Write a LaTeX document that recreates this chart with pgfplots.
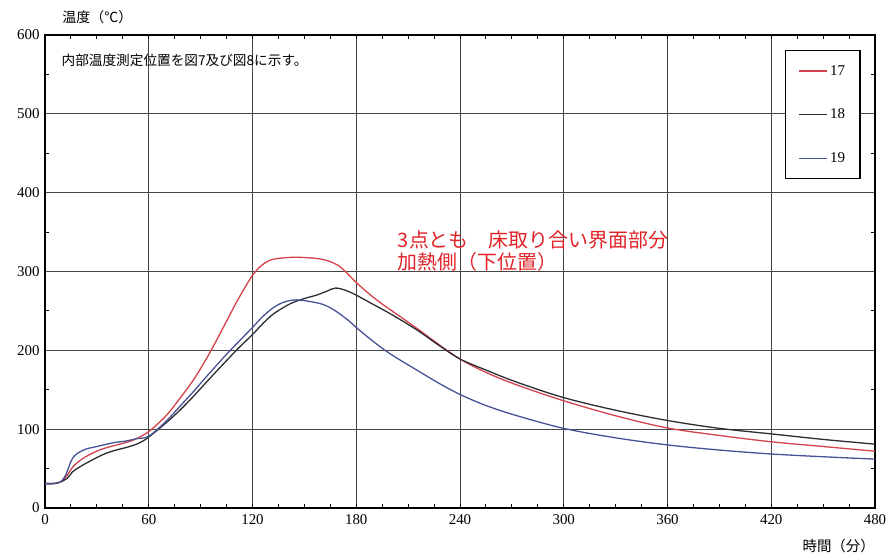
\documentclass[border=0pt]{standalone}
\usepackage{fontspec}
\setmainfont{Liberation Serif}
\newfontfamily\jp{Noto Sans CJK JP}
\usepackage{pgfplots}
\pgfplotsset{compat=1.18}

\definecolor{c17}{RGB}{212,66,76}
\definecolor{c18}{RGB}{45,45,50}
\definecolor{c19}{RGB}{72,82,150}
\definecolor{gridc}{RGB}{70,70,70}
\definecolor{notered}{RGB}{225,35,40}

\begin{document}
\begin{tikzpicture}
\begin{axis}[
  scale only axis, width=830bp, height=473bp,
  at={(0,0)}, anchor=south west,
  xmin=0, xmax=480, ymin=0, ymax=600,
  xtick={0,60,...,480}, ytick={0,100,...,600},
  minor xtick={15,30,...,465}, minor ytick={50,150,...,550},
  grid=major,
  major grid style={gridc, line width=1bp},
  axis line style={black, line width=1.6bp},
  tick align=inside,
  major tick length=0bp, minor tick length=4bp,
  every minor tick/.style={black, line width=0.9bp},
  tick label style={font=\fontsize{15}{15}\selectfont},
  /pgf/number format/assume math mode=true,
  xticklabel style={yshift=-3bp},
  yticklabel style={xshift=-2bp},
  clip=false,
  legend style={at={(0.8916,0.968)}, anchor=north west,
    draw=black, line width=1.1bp, fill=white,
    font=\fontsize{15}{15}\selectfont,
    row sep=28.5bp, inner xsep=13bp, inner ysep=12.5bp,
    cells={anchor=west}},
  legend image code/.code={\draw[#1, line width=1.5bp] (0bp,0bp) -- (28bp,0bp);},
]

% 17
\addplot[c17, line width=1.3bp, smooth, tension=0.55] coordinates {
(0,31) (5,31) (9,33) (13,42) (16,52) (19,58) (22,63) (27,69) (32,74)
(38,78) (45,82) (52,87) (60,97) (70,117) (78,139) (86,163) (93.5,190)
(100,216) (105,237) (112,266) (120,295) (126,309) (132,315.5) (143,318)
(155,317) (163,314) (170,307) (176,295) (180,286) (190,267) (200,251)
(215,228) (228,207) (240,189) (255,172) (273,156) (300,136) (330,117)
(360,101.5) (390,92) (420,84) (450,78) (480,72)};
\addlegendentry{17}

% 18
\addplot[c18, line width=1.3bp, smooth, tension=0.55] coordinates {
(0,31) (5,31) (9,33) (13,38) (16,46) (20,52) (24,57) (30,64) (36,70)
(42,74) (49,78) (55,83) (60,90) (70,108) (78,124) (86,142) (93.5,160)
(105,187) (112,203) (120,220) (126,234) (132,246) (140,257) (145,262)
(152,267) (157,270) (163,275) (168,279) (174,276) (180,270) (190,258)
(200,246) (215,226) (228,206) (240,189) (255,175) (273,159.5) (300,140)
(330,124) (360,111) (390,101) (420,94) (450,87) (480,81)};
\addlegendentry{18}

% 19
\addplot[c19, line width=1.3bp, smooth, tension=0.55] coordinates {
(0,31) (5,31) (9,33) (12,42) (15,59) (17,66) (20,71) (24,75) (28,77)
(34,80) (40,83) (47,85) (53,88) (60,91) (70,110) (78,129) (86,148)
(93.5,167) (105,195) (112,211) (120,229) (126,243) (132,254) (138,261)
(145,264) (153,262) (161,258) (168,250) (176,237) (180,229) (190,211)
(200,195) (215,175) (228,158) (240,144) (255,130) (273,117) (300,101)
(330,89) (360,80) (390,73.5) (420,68.5) (450,65) (480,62)};
\addlegendentry{19}

% notes and axis titles
\node[anchor=west, inner sep=0, font=\jp\fontsize{13.7}{13.7}\selectfont]
  at (axis cs:9.5,568) {内部温度測定位置を図7及び図8に示す。};
\node[anchor=north west, align=left, inner sep=0, text=notered,
  font=\jp\fontsize{20}{22.5}\selectfont]
  at (axis cs:204,352) {3点とも　床取り合い界面部分\\加熱側（下位置）};
\node[anchor=west, inner sep=0, font=\jp\fontsize{14}{14}\selectfont]
  at (axis cs:10,623) {温度（℃）};
\node[anchor=west, inner sep=0, font=\jp\fontsize{14.5}{14.5}\selectfont]
  at (axis cs:438,-48) {時間（分）};
\end{axis}
\path ([xshift=-45bp,yshift=-50bp]current axis.south west)
  rectangle ([xshift=15bp,yshift=35bp]current axis.north east);
\end{tikzpicture}
\end{document}
